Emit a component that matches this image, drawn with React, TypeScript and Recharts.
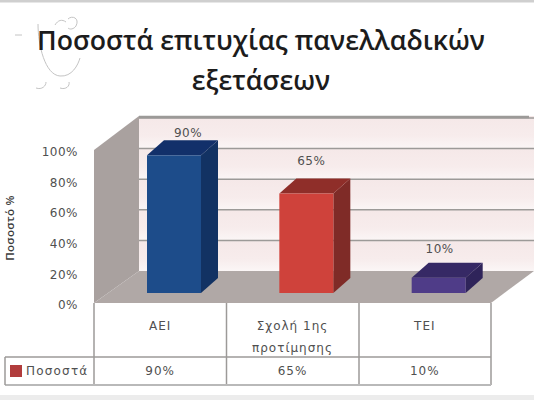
import React from 'react';
import { BarChart, Bar, XAxis, YAxis, Customized, LabelList } from 'recharts';

const categories = ['ΑΕΙ', 'Σχολή 1ης προτίμησης', 'ΤΕΙ'];
const values = [90, 65, 10];
const yTicks = [0, 20, 40, 60, 80, 100];
const titleLines = ['Ποσοστά επιτυχίας πανελλαδικών', 'εξετάσεων'];
const seriesName = 'Ποσοστά';
const yLabel = 'Ποσοστό %';

const data = categories.map((name, i) => ({ name, value: values[i] }));

const TITLE_FONT = '"Open Sans", "Noto Sans", sans-serif';
const FONT = '"DejaVu Sans", sans-serif';
const TEXT = '#505050';
const LINE = '#9c9a98';

// front plane of the fake 3D box, bars sit half way into it
const LEFT = 94;
const RIGHT = 491;
const FRONT_TOP = 150;
const FRONT_ZERO = 303;
const WALL_DX = 45;
const WALL_DY = 32;
const BAR_DX = 14;
const BAR_DY = 10;
const DEPTH_X = 17;
const DEPTH_Y = 15;

const barColors = [
  { front: '#1d4c8a', side: '#123263', top: '#12306a' },
  { front: '#cf423b', side: '#7f2b27', top: '#8f2e29' },
  { front: '#4f3c88', side: '#2f245a', top: '#362965' },
];
const labelShift = [
  { x: 14, y: -7 },
  { x: 5, y: -18 },
  { x: 1, y: -14 },
];

function Bar3D(props: any) {
  const { x, y, width, height, index } = props;
  const c = barColors[index];
  const l = x + BAR_DX;
  const t = y - BAR_DY;
  const r = l + width;
  const b = t + height;
  return (
    <g>
      <polygon points={`${r},${t} ${r + DEPTH_X},${t - DEPTH_Y} ${r + DEPTH_X},${b - DEPTH_Y} ${r},${b}`} fill={c.side} />
      <polygon points={`${l},${t} ${l + DEPTH_X},${t - DEPTH_Y} ${r + DEPTH_X},${t - DEPTH_Y} ${r},${t}`} fill={c.top} />
      <rect x={l} y={t} width={width} height={height} fill={c.front} />
    </g>
  );
}

function BarValue(props: any) {
  const { x, y, width, index, value } = props;
  const s = labelShift[index];
  return (
    <text x={x + width / 2 + BAR_DX + s.x} y={y - BAR_DY - DEPTH_Y + s.y + 4} textAnchor="middle" fontSize={12} letterSpacing={0.5} fontFamily={FONT} fill={TEXT}>
      {value}%
    </text>
  );
}

function Backdrop() {
  const unit = (FRONT_ZERO - FRONT_TOP) / 100;
  const wallLeft = LEFT + WALL_DX;
  const wallZero = FRONT_ZERO - WALL_DY;
  const wallTop = FRONT_TOP - WALL_DY - 2;
  const gridYs = yTicks.slice(1).map((t) => wallZero - t * unit);
  return (
    <g>
      <defs>
        <linearGradient id="band" x1="0" y1="0" x2="0" y2="1">
          <stop offset="0%" stopColor="#f5e8e8" />
          <stop offset="60%" stopColor="#f7ecec" />
          <stop offset="100%" stopColor="#fbf6f6" />
        </linearGradient>
      </defs>
      {yTicks.slice(1).map((t, i) => (
        <rect key={t} x={wallLeft} y={gridYs[i] - (t === 100 ? 2 : 0)} width={534 - wallLeft} height={20 * unit + (t === 100 ? 2 : 0)} fill="url(#band)" />
      ))}
      {gridYs.map((y, i) => (
        <line key={i} x1={wallLeft} x2={534} y1={y} y2={y} stroke={LINE} strokeWidth={1.5} />
      ))}
      <line x1={wallLeft} x2={529} y1={wallTop + 1} y2={wallTop + 1} stroke={LINE} strokeWidth={2.5} />
      <polygon points={`${LEFT},${FRONT_TOP} ${wallLeft},${wallTop} ${wallLeft},${wallZero} ${LEFT},${FRONT_ZERO}`} fill="#a9a19f" />
      <polygon points={`${LEFT},${FRONT_ZERO} ${wallLeft},${wallZero} 534,${wallZero} ${RIGHT},${FRONT_ZERO}`} fill="#b0a8a6" />

      {/* title and the faint logo scribble behind it */}
      <g fill="none" stroke="#c4c4c4" strokeWidth={1}>
        <path d="M38 24 C38 45 45 75 60 76 C72 77 78 65 80 58" />
        <path d="M15 35 H22" />
        <path d="M55 25 C58 20 62 19 66 22" />
        <path d="M68 19 C72 15 80 18 76 26 C74 29 70 30 68 28" />
        <path d="M36 88 C42 90 46 86 46 82" />
        <path d="M60 88 C66 90 70 86 69 82" />
      </g>
      <text textAnchor="middle" fontFamily={TITLE_FONT} fontWeight={600} fontSize={26.7} fill="#1c1c1c">
        <tspan x={261} y={50}>{titleLines[0]}</tspan>
        <tspan x={261} y={90}>{titleLines[1]}</tspan>
      </text>

      <text transform="translate(14,228) rotate(-90)" textAnchor="middle" fontFamily={TITLE_FONT} fontWeight={600} fontSize={11.5} letterSpacing={0.3} fill="#3c3c3c">
        {yLabel}
      </text>

      {/* data table under the plot */}
      <rect x={0} y={0} width={534} height={2.5} fill="#cfcfcf" />
      <rect x={0} y={395} width={534} height={5} fill="#ececec" />
      <g stroke={LINE} strokeWidth={1.5}>
        {[LEFT, 226.5, 359, RIGHT].map((x) => (
          <line key={x} x1={x} x2={x} y1={FRONT_ZERO} y2={385} />
        ))}
        <line x1={5} x2={RIGHT} y1={357} y2={357} />
        <line x1={5} x2={RIGHT} y1={385} y2={385} stroke="#b9b9b9" strokeWidth={2} />
        <line x1={5} x2={5} y1={357} y2={385} />
      </g>
      <rect x={10} y={365} width={12} height={12} fill="#b13c3c" />
      <text x={26} y={375} fontFamily={FONT} fontSize={12} letterSpacing={1.2} fill={TEXT}>{seriesName}</text>
    </g>
  );
}

function TableTick(props: any) {
  const { x, index, payload } = props;
  const words = String(payload.value).split(' ');
  const lines = words.length > 2 ? [words.slice(0, 2).join(' '), words.slice(2).join(' ')] : [payload.value];
  return (
    <g fontFamily={FONT} fontSize={12} letterSpacing={1} fill={TEXT} textAnchor="middle">
      {lines.map((line: string, i: number) => (
        <text key={i} x={x} y={330 + i * 22}>{line}</text>
      ))}
      <text x={x} y={375}>{values[index]}%</text>
    </g>
  );
}

export default function App() {
  return (
    <div style={{ position: 'absolute', left: 0, top: 0, width: 534, height: 400, overflow: 'hidden', background: '#fff' }}>
      <BarChart
        width={534}
        height={400}
        data={data}
        margin={{ top: FRONT_TOP, right: 534 - RIGHT, bottom: 15, left: 34 }}
        barCategoryGap={0}
      >
        <Customized component={<Backdrop />} />
        <XAxis dataKey="name" height={82} axisLine={false} tickLine={false} tick={<TableTick />} interval={0} />
        <YAxis
          width={60}
          domain={[0, 100]}
          ticks={yTicks}
          tickFormatter={(v: number) => `${v}%`}
          axisLine={false}
          tickLine={false}
          tickMargin={10}
          dy={2}
          tick={{ fontSize: 12, fontFamily: FONT, fill: TEXT, letterSpacing: 0.5 }}
        />
        <Bar dataKey="value" barSize={54} isAnimationActive={false} shape={<Bar3D />}>
          <LabelList dataKey="value" content={<BarValue />} />
        </Bar>
      </BarChart>
    </div>
  );
}
